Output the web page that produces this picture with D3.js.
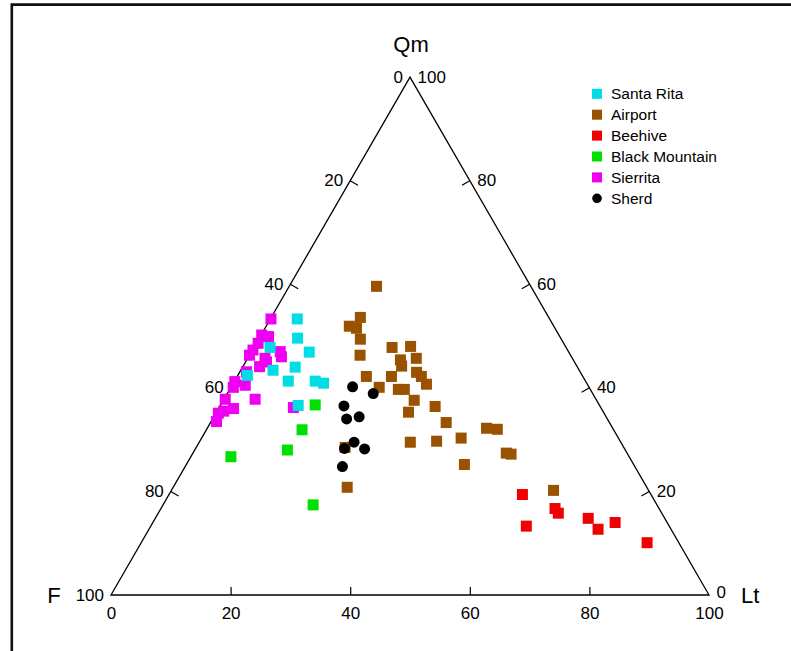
<!DOCTYPE html>
<html lang="en">
<head>
    <meta charset="UTF-8">
    <title>Qm-F-Lt ternary plot</title>
    <script src="https://d3js.org/d3.v7.min.js"></script>
    <style>
        body {
            margin: 0;
            background: #fff;
            font-family: "Liberation Sans", Arial, sans-serif;
        }
        text {
            fill: #000;
        }
    </style>
</head>
<body>
    <script>
        // Each point is [Qm, F, Lt] in percent
        const santaRita = [
            [53.3, 42.2, 4.5], [49.6, 44.0, 6.4], [46.9, 43.4, 9.7], [47.8, 49.5, 2.7],
            [43.4, 51.2, 5.4], [44.0, 47.2, 8.8], [41.3, 49.7, 9.0], [41.3, 45.2, 13.5],
            [40.9, 44.0, 15.1], [36.6, 50.4, 13.0], [42.4, 56.0, 1.6]
        ];
        const airport = [
            [59.6, 25.8, 14.6], [53.6, 31.5, 14.9], [51.9, 34.2, 13.9], [51.5, 33.2, 15.3],
            [49.4, 33.6, 17.0], [46.3, 35.2, 18.5], [47.8, 29.1, 23.1], [48.0, 25.9, 26.1],
            [45.4, 28.9, 25.7], [45.7, 26.1, 28.2], [44.2, 29.3, 26.5], [42.2, 36.2, 21.6],
            [42.2, 32.0, 25.8], [43.0, 27.4, 29.6], [42.2, 27.0, 30.8], [40.7, 26.9, 32.4],
            [40.1, 35.1, 24.8], [39.7, 32.1, 28.2], [39.7, 31.1, 29.2], [37.6, 30.5, 31.9],
            [35.3, 32.6, 32.1], [36.4, 27.6, 36.0], [33.3, 27.3, 39.4], [32.2, 21.1, 46.7],
            [32.0, 19.4, 48.6], [29.5, 35.2, 35.3], [29.7, 30.7, 39.6], [30.3, 26.3, 43.4],
            [27.4, 20.2, 52.4], [27.2, 19.5, 53.3], [28.5, 46.6, 24.9], [25.2, 28.3, 46.5],
            [20.8, 50.1, 29.1], [20.2, 15.9, 63.9]
        ];
        const beehive = [
            [19.4, 21.5, 59.1], [16.7, 17.4, 65.9], [15.8, 17.3, 66.9], [13.3, 23.9, 62.8],
            [14.8, 12.8, 72.4], [12.7, 12.2, 75.1], [14.0, 8.7, 77.3], [10.1, 5.3, 84.6]
        ];
        const blackMountain = [
            [36.7, 47.5, 15.8], [31.9, 52.1, 16.0], [26.7, 66.6, 6.7], [28.0, 56.5, 15.5],
            [17.4, 57.5, 25.1]
        ];
        const sierrita = [
            [53.3, 46.6, 0.1], [50.2, 49.7, 0.1], [49.9, 48.7, 1.4], [48.6, 51.1, 0.3],
            [47.3, 52.6, 0.1], [47.0, 48.2, 4.8], [46.0, 48.5, 5.5], [46.3, 53.7, 0.0],
            [45.7, 51.4, 2.9], [45.0, 51.5, 3.5], [44.1, 53.1, 2.8], [43.1, 55.8, 1.1],
            [40.5, 57.3, 2.2], [41.2, 58.7, 0.1], [40.1, 59.5, 0.4], [37.8, 57.0, 5.2],
            [37.8, 62.0, 0.2], [36.0, 61.5, 2.5], [35.1, 64.5, 0.4], [33.5, 65.6, 0.9],
            [36.2, 51.4, 12.4], [35.5, 63.4, 1.1]
        ];
        const sherd = [
            [40.2, 39.5, 20.3], [38.9, 36.7, 24.4], [36.5, 42.8, 20.7], [34.0, 43.6, 22.4],
            [34.4, 41.3, 24.3], [29.5, 44.6, 25.9], [28.3, 46.8, 24.9], [28.2, 43.5, 28.3],
            [24.8, 48.9, 26.3]
        ];

        const legendNames = ["Santa Rita", "Airport", "Beehive", "Black Mountain", "Sierrita", "Sherd"];
        const legendColors = ["#00dde3", "#9a5200", "#f00000", "#00e000", "#f000f0", "#000000"];
        const tickValues = [0, 20, 40, 60, 80, 100];

        const width = 791;
        const height = 651;

        const svg = d3.select("body").append("svg")
            .attr("width", width)
            .attr("height", height);

        // outer frame (only left and top edges are inside the window)
        svg.append("path")
            .attr("d", "M11.8,651V4.6H791")
            .attr("fill", "none")
            .attr("stroke", "#111")
            .attr("stroke-width", 2.6);

        // ternary geometry: x from Lt + Qm/2, y from Qm
        const x = d3.scaleLinear().domain([0, 100]).range([111, 709]);
        const y = d3.scaleLinear().domain([0, 100]).range([595, 595 - 598 * Math.sqrt(3) / 2]);
        const px = d => x(d[2] + d[0] / 2);
        const py = d => y(d[0]);

        const corners = [[100, 0, 0], [0, 100, 0], [0, 0, 100]];
        svg.append("path")
            .attr("d", d3.line().x(px).y(py)(corners) + "Z")
            .attr("fill", "none")
            .attr("stroke", "#000")
            .attr("stroke-width", 1.3);

        const tickLen = 9;
        const inner = tickValues.filter(v => v > 0 && v < 100);

        // bottom axis: Lt
        const bottom = svg.append("g")
            .attr("transform", "translate(0,595)")
            .call(d3.axisBottom(x).tickValues(tickValues)
                .tickSizeInner(-8).tickSizeOuter(0).tickPadding(12)
                .tickFormat(d3.format("d")));
        bottom.select(".domain").remove();
        bottom.selectAll(".tick line")
            .attr("stroke", "#000")
            .attr("stroke-width", 1.2)
            .filter(d => d === 0 || d === 100).remove();
        bottom.selectAll(".tick text")
            .attr("font-family", "Liberation Sans, Arial, sans-serif")
            .attr("font-size", 17);

        // left axis: F (0 at apex, 100 at F corner)
        const leftPt = v => [100 - v, v, 0];
        const nL = [Math.sqrt(3) / 2, 0.5];
        svg.append("g").selectAll("line")
            .data(inner).join("line")
            .attr("x1", v => px(leftPt(v)))
            .attr("y1", v => py(leftPt(v)))
            .attr("x2", v => px(leftPt(v)) + nL[0] * tickLen)
            .attr("y2", v => py(leftPt(v)) + nL[1] * tickLen)
            .attr("stroke", "#000").attr("stroke-width", 1.2);
        svg.append("g").selectAll("text")
            .data(tickValues).join("text")
            .attr("x", v => px(leftPt(v)) - 7)
            .attr("y", v => py(leftPt(v)) + 5.5)
            .attr("text-anchor", "end")
            .attr("font-size", 17)
            .text(v => v);

        // right axis: Qm (100 at apex, 0 at Lt corner)
        const rightPt = v => [v, 0, 100 - v];
        const nR = [-Math.sqrt(3) / 2, 0.5];
        svg.append("g").selectAll("line")
            .data(inner).join("line")
            .attr("x1", v => px(rightPt(v)))
            .attr("y1", v => py(rightPt(v)))
            .attr("x2", v => px(rightPt(v)) + nR[0] * tickLen)
            .attr("y2", v => py(rightPt(v)) + nR[1] * tickLen)
            .attr("stroke", "#000").attr("stroke-width", 1.2);
        svg.append("g").selectAll("text")
            .data(tickValues).join("text")
            .attr("x", v => px(rightPt(v)) + 7.5)
            .attr("y", v => py(rightPt(v)) + (v === 0 ? 2.5 : 5.5))
            .attr("text-anchor", "start")
            .attr("font-size", 17)
            .text(v => v);

        // axis titles
        svg.append("text").attr("x", 411).attr("y", 52).attr("text-anchor", "middle")
            .attr("font-size", 22).text("Qm");
        svg.append("text").attr("x", 54).attr("y", 603).attr("text-anchor", "middle")
            .attr("font-size", 22).text("F");
        svg.append("text").attr("x", 741).attr("y", 603).attr("text-anchor", "start")
            .attr("font-size", 22).text("Lt");

        // points, drawn in the stacking order seen in the figure
        const sq = 11;
        const layers = [
            [sierrita, 4], [blackMountain, 3], [beehive, 2], [airport, 1], [santaRita, 0]
        ];
        layers.forEach(([data, i]) => {
            svg.append("g").selectAll("rect")
                .data(data).join("rect")
                .attr("x", d => px(d) - sq / 2)
                .attr("y", d => py(d) - sq / 2)
                .attr("width", sq)
                .attr("height", sq)
                .attr("fill", legendColors[i]);
        });
        svg.append("g").selectAll("circle")
            .data(sherd).join("circle")
            .attr("cx", px)
            .attr("cy", py)
            .attr("r", 5.5)
            .attr("fill", legendColors[5]);

        // legend
        const legend = svg.append("g").attr("transform", "translate(597,93.8)");
        const rows = legend.selectAll("g")
            .data(legendNames).join("g")
            .attr("transform", (d, i) => `translate(0,${i * 20.9})`);
        rows.filter((d, i) => i < 5).append("rect")
            .attr("x", -5).attr("y", -5).attr("width", 10).attr("height", 10)
            .attr("fill", (d, i) => legendColors[i]);
        rows.filter((d, i) => i === 5).append("circle")
            .attr("r", 4.8).attr("fill", legendColors[5]);
        rows.append("text")
            .attr("x", 14)
            .attr("y", 5.5)
            .attr("font-size", 15.5)
            .text(d => d);
    </script>
</body>
</html>
